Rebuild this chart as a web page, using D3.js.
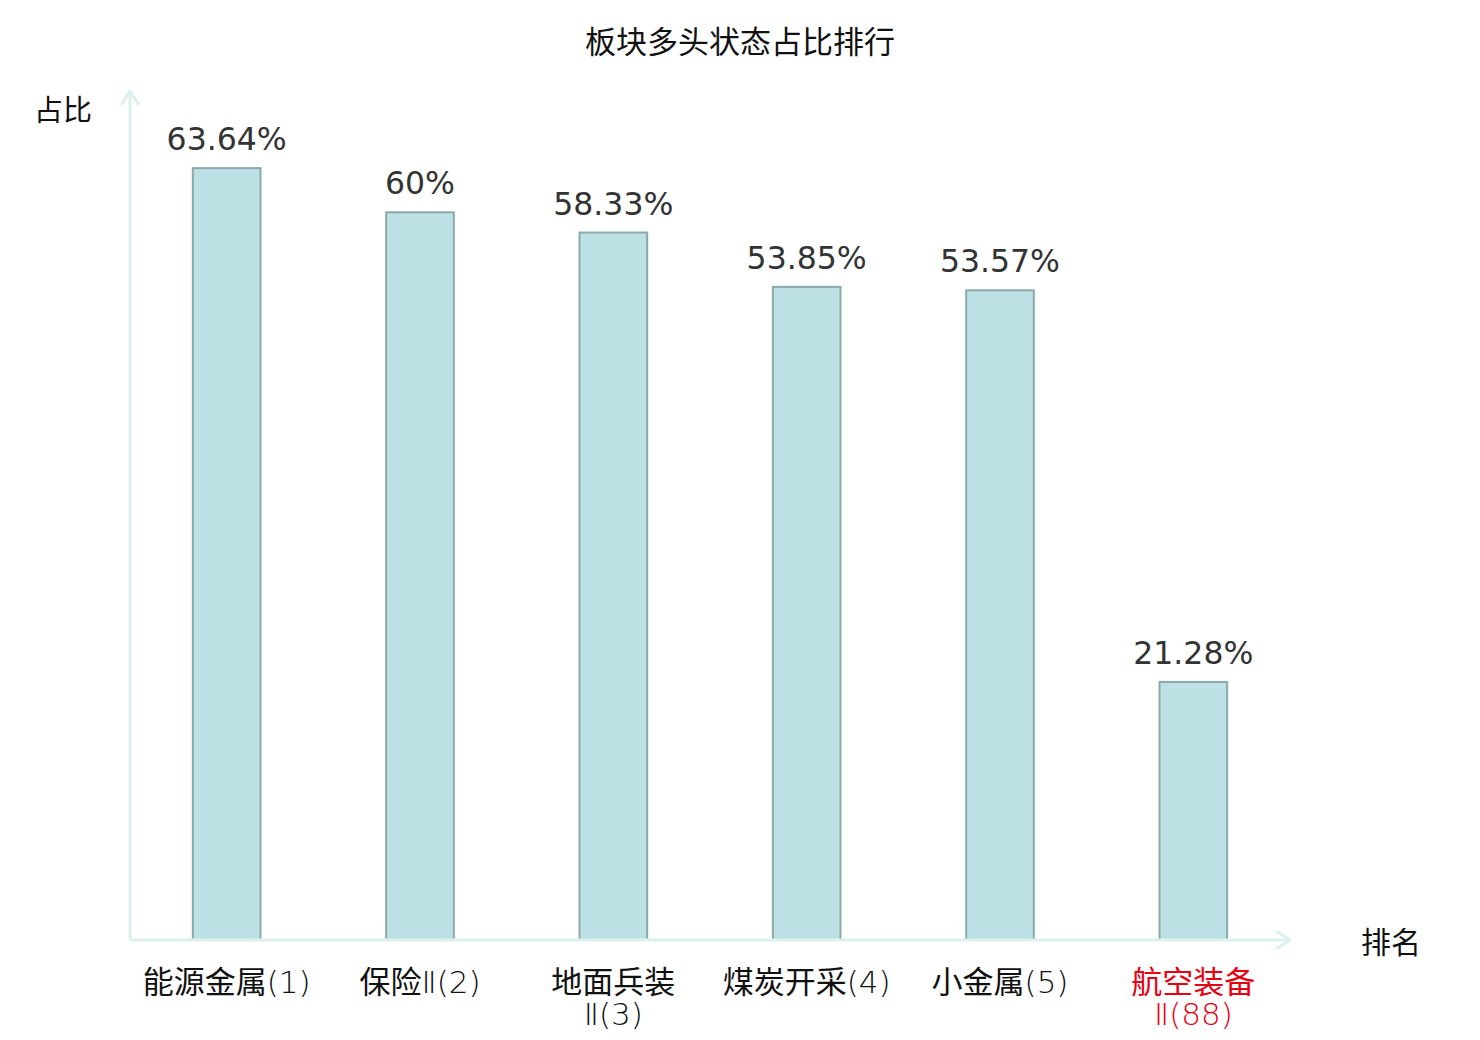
<!DOCTYPE html>
<html><head><meta charset="utf-8">
<script src="https://cdn.jsdelivr.net/npm/d3@7/dist/d3.min.js"></script>
<style>
html,body{margin:0;padding:0;background:#fff;}
svg{display:block;}
</style></head>
<body><svg id="c" width="1480" height="1040"></svg>
<script>
const title = "板块多头状态占比排行";
const categories = ["能源金属(1)", "保险Ⅱ(2)", "地面兵装\nⅡ(3)", "煤炭开采(4)", "小金属(5)", "航空装备\nⅡ(88)"];
const values = [63.64, 60, 58.33, 53.85, 53.57, 21.28];
const valueLabels = ["63.64%", "60%", "58.33%", "53.85%", "53.57%", "21.28%"];
const highlight = [false, false, false, false, false, true];
const yName = "占比";
const xName = "排名";

const svg = d3.select("#c");
const cjk = "'Noto Sans CJK SC', 'Noto Sans', sans-serif";
const latinLight = "'DejaVu Sans', 'Noto Sans', sans-serif";
const pLeft = 130, pRight = 1290, pBottom = 940, pTop = 91;

const x = d3.scaleBand().domain(categories).range([pLeft, pRight]).paddingInner(0.65).paddingOuter(0.325);
const y = d3.scaleLinear().domain([0, 70]).range([pBottom, pTop]);

// title
svg.append("text").attr("x", 740).attr("y", 53).attr("text-anchor", "middle")
  .style("font-family", cjk).style("font-size", "31px").attr("fill", "#111").text(title);

// bars
svg.selectAll("rect.bar").data(values).enter().append("rect")
  .attr("x", (d, i) => x(categories[i]))
  .attr("width", x.bandwidth())
  .attr("y", d => y(d))
  .attr("height", d => y(0) - y(d))
  .attr("fill", "#bce0e3").attr("stroke", "#8ca9a9").attr("stroke-width", 2);

// value labels
svg.selectAll("text.val").data(values).enter().append("text")
  .attr("x", (d, i) => x(categories[i]) + x.bandwidth() / 2)
  .attr("y", d => y(d) - 18)
  .attr("text-anchor", "middle")
  .style("font-family", "'DejaVu Sans', sans-serif").style("font-size", "31.5px")
  .attr("fill", "#333").text((d, i) => valueLabels[i]);

// axes
const axisColor = "#dcf1ee";
const ax = svg.append("g").attr("stroke", axisColor).attr("stroke-width", 3).attr("fill", "none");
ax.append("line").attr("x1", pLeft).attr("y1", pBottom).attr("x2", pRight).attr("y2", pBottom);
ax.append("line").attr("x1", pLeft).attr("y1", pBottom).attr("x2", pLeft).attr("y2", pTop);
ax.append("path").attr("d", `M${pRight - 14},${pBottom - 9}L${pRight},${pBottom}L${pRight - 14},${pBottom + 9}`).attr("stroke-linejoin", "round");
ax.append("path").attr("d", `M${pLeft - 9},${pTop + 14}L${pLeft},${pTop}L${pLeft + 9},${pTop + 14}`).attr("stroke-linejoin", "round");

// axis names
svg.append("text").attr("x", 63).attr("y", 121).attr("text-anchor", "middle")
  .style("font-family", cjk).style("font-size", "29px").attr("fill", "#111").text(yName);
svg.append("text").attr("x", 1391).attr("y", 953).attr("text-anchor", "middle")
  .style("font-family", cjk).style("font-size", "30px").attr("fill", "#111").text(xName);

// category labels (CJK in Noto Sans CJK, latin part in a light face)
const isCjk = ch => /[\u4e00-\u9fff]/.test(ch);
function segments(s) {
  const out = [];
  for (const ch of s) {
    const c = isCjk(ch);
    if (out.length && out[out.length - 1].c === c) out[out.length - 1].t += ch;
    else out.push({ c, t: ch });
  }
  return out;
}
categories.forEach((c, i) => {
  const cx = x(c) + x.bandwidth() / 2;
  c.split("\n").forEach((l, k) => {
    const t = svg.append("text")
      .attr("x", cx).attr("y", 993 + k * 32)
      .attr("text-anchor", "middle")
      .style("font-size", "31px")
      .attr("fill", highlight[i] ? "#e60012" : "#111");
    segments(l).forEach(sg => {
      const ts = t.append("tspan").text(sg.t);
      if (sg.c) ts.style("font-family", cjk);
      else ts.style("font-family", latinLight).style("font-weight", 200);
    });
  });
});
</script></body></html>
